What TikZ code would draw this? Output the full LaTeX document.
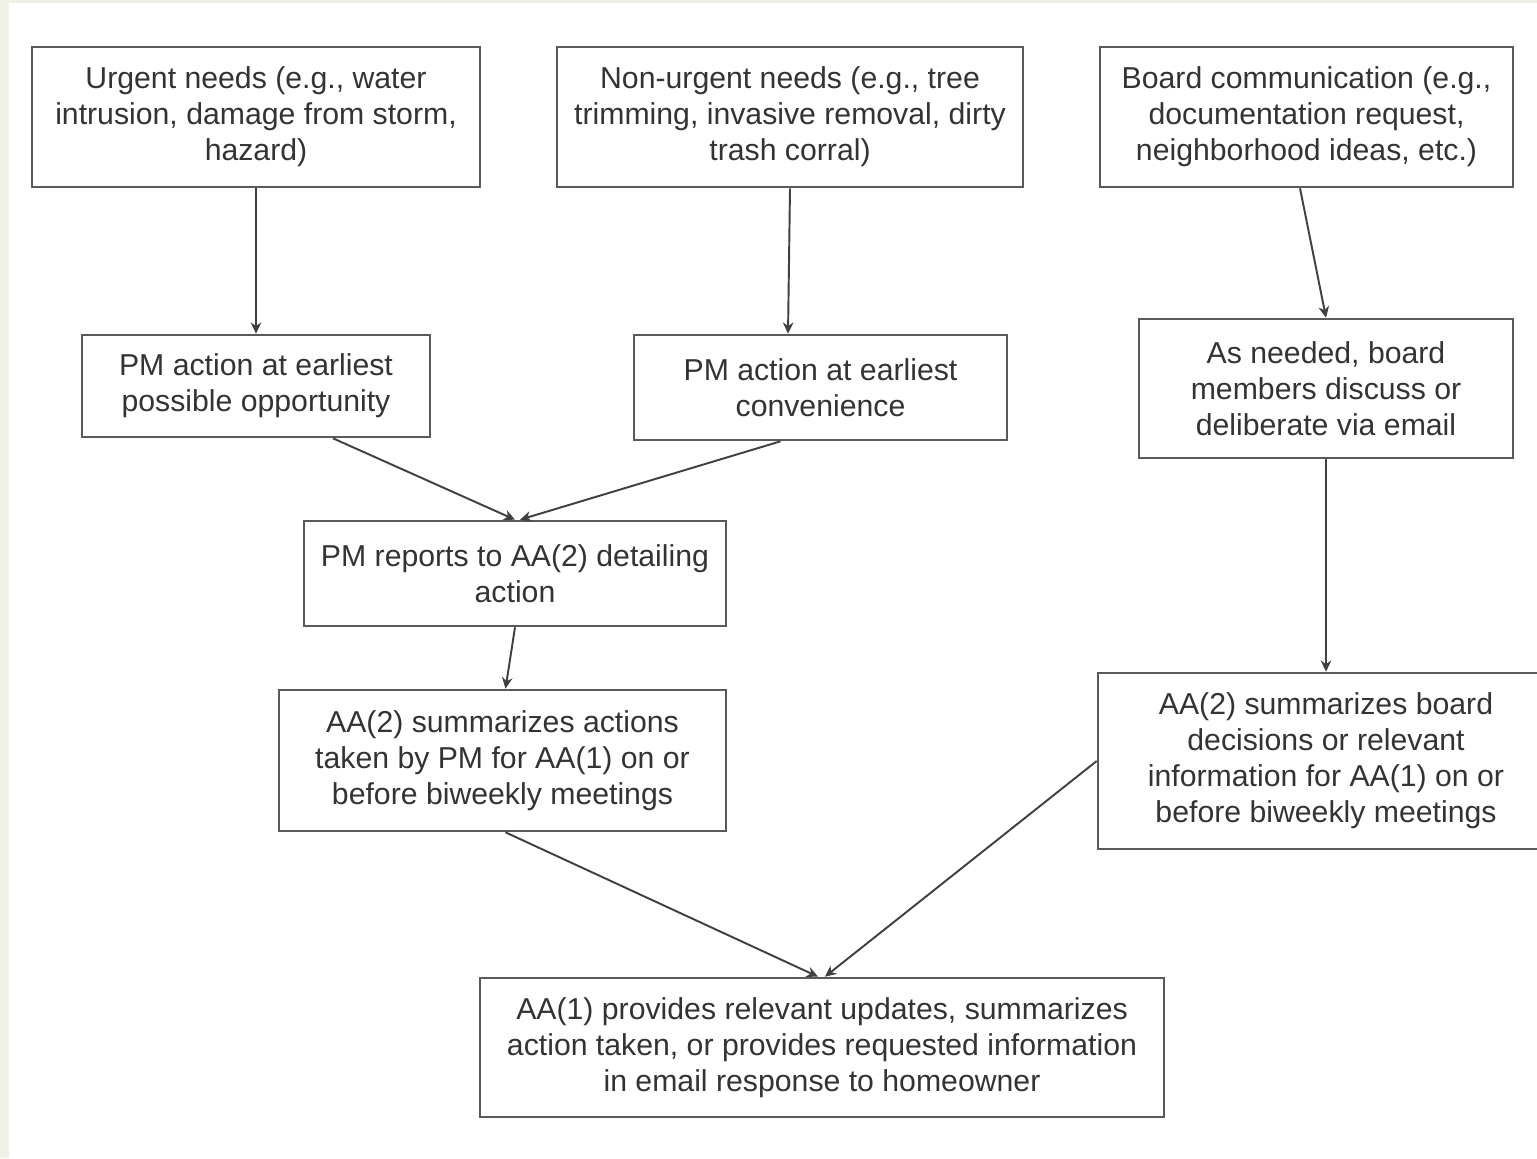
\documentclass[tikz,border=0pt]{standalone}
\usepackage{fontspec}
\setmainfont{Liberation Sans}
\usepackage{xcolor}
\usepackage{tikz}
\usetikzlibrary{arrows.meta}

\definecolor{boxline}{HTML}{5A5A5A}
\definecolor{txtgray}{HTML}{333333}
\definecolor{sidestrip}{HTML}{EEF1E3}

\tikzset{
  flowbox/.style={draw=boxline, line width=0.75pt, align=center, inner sep=0pt,
    text=txtgray, font=\fontsize{8.6}{10.25}\selectfont},
  flowarrow/.style={draw=black!75, line width=0.55pt, -{Stealth[length=3.2pt, width=3pt]}}
}

\begin{document}
\begin{tikzpicture}
  % Page and background
  \useasboundingbox (0,0) rectangle (15.37,-11.58);
  \fill[white] (0,0) rectangle (15.37,-11.58);
  \fill[sidestrip] (0,0) rectangle (0.09,-11.58);
  \fill[sidestrip] (0,0) rectangle (15.37,-0.03);

  % Top row: incoming requests
  \node[flowbox, minimum width=4.48cm, minimum height=1.40cm] (urgent) at (2.56,-1.17)
    {Urgent needs (e.g., water\\intrusion, damage from storm,\\hazard)};
  \node[flowbox, minimum width=4.66cm, minimum height=1.40cm] (nonurgent) at (7.90,-1.17)
    {Non-urgent needs (e.g., tree\\trimming, invasive removal, dirty\\trash corral)};
  \node[flowbox, minimum width=4.13cm, minimum height=1.40cm] (board) at (13.065,-1.17)
    {Board communication (e.g.,\\documentation request,\\neighborhood ideas, etc.)};

  % Second row: PM actions and board discussion
  \node[flowbox, minimum width=3.48cm, minimum height=1.02cm] (pmsoon) at (2.56,-3.86)
    {PM action at earliest\\possible opportunity};
  \node[flowbox, minimum width=3.73cm, minimum height=1.05cm] (pmlater) at (8.205,-3.875)
    {PM action at earliest\\convenience};
  \node[flowbox, minimum width=3.74cm, minimum height=1.39cm] (discuss) at (13.26,-3.885)
    {As needed, board\\members discuss or\\deliberate via email};

  % PM report
  \node[flowbox, minimum width=4.22cm, minimum height=1.05cm] (report) at (5.15,-5.735)
    {PM reports to AA(2) detailing\\action};

  % AA(2) summaries
  \node[flowbox, minimum width=4.47cm, minimum height=1.41cm] (sumpm) at (5.025,-7.605)
    {AA(2) summarizes actions\\taken by PM for AA(1) on or\\before biweekly meetings};
  \node[flowbox, minimum width=4.56cm, minimum height=1.76cm] (sumboard) at (13.26,-7.61)
    {AA(2) summarizes board\\decisions or relevant\\information for AA(1) on or\\before biweekly meetings};

  % AA(1) response
  \node[flowbox, minimum width=6.84cm, minimum height=1.39cm] (reply) at (8.22,-10.475)
    {AA(1) provides relevant updates, summarizes\\action taken, or provides requested information\\in email response to homeowner};

  % Connectors
  \draw[flowarrow] (urgent.south) -- (pmsoon.north);
  \draw[flowarrow] (nonurgent.south) -- ([xshift=-0.325cm]pmlater.north);
  \draw[flowarrow] ([xshift=-0.065cm]board.south) -- (discuss.north);
  \draw[flowarrow] ([xshift=0.77cm]pmsoon.south) -- (report.north);
  \draw[flowarrow] ([xshift=-0.4cm]pmlater.south) -- ([xshift=0.05cm]report.north);
  \draw[flowarrow] (report.south) -- ([xshift=0.03cm]sumpm.north);
  \draw[flowarrow] (discuss.south) -- (sumboard.north);
  \draw[flowarrow] ([xshift=0.03cm]sumpm.south) -- ([xshift=-0.04cm]reply.north);
  \draw[flowarrow] (sumboard.west) -- ([xshift=0.03cm]reply.north);
\end{tikzpicture}
\end{document}
